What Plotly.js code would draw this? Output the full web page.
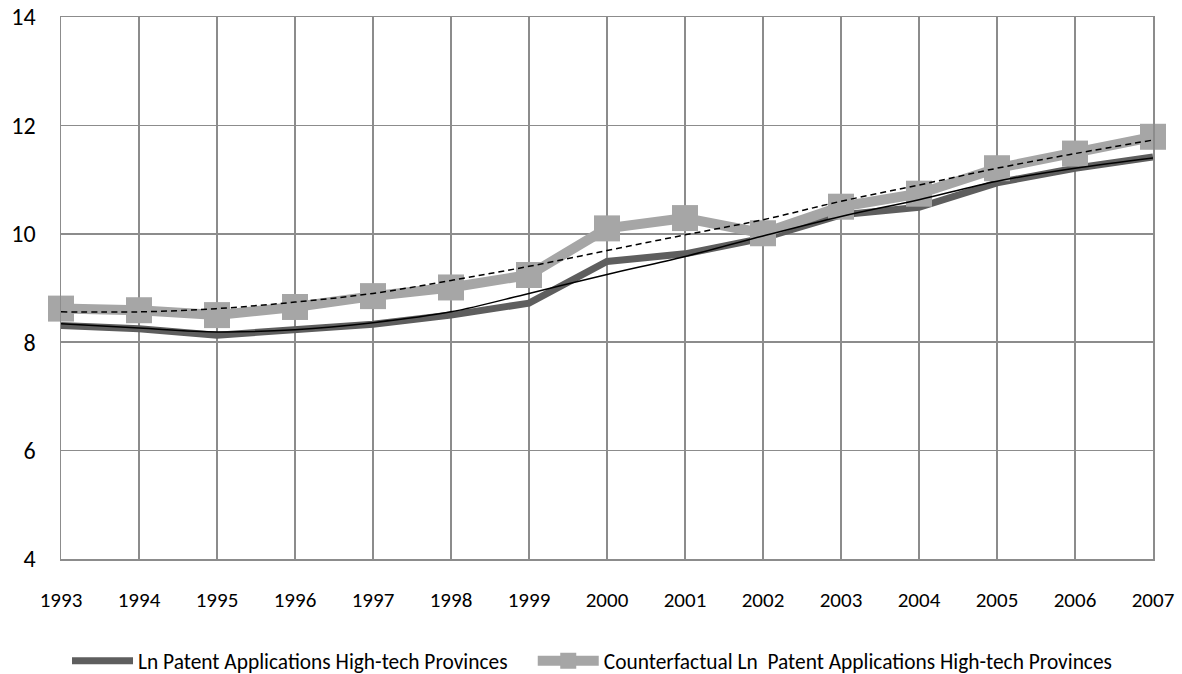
<!DOCTYPE html>
<html>
<head>
<meta charset="utf-8">
<script src="https://cdn.plot.ly/plotly-3.0.1.min.js"></script>
<style>html,body{margin:0;padding:0;background:#fff;}#chart{width:1182px;height:674px;}</style>
</head>
<body>
<div id="chart"></div>
<script>
const years = ['1993','1994','1995','1996','1997','1998','1999','2000','2001','2002','2003','2004','2005','2006','2007'];
const lnPatents = [8.31,8.25,8.13,8.22,8.33,8.50,8.72,9.49,9.63,9.92,10.35,10.49,10.94,11.21,11.42];
const counterfactual = [8.62,8.59,8.50,8.65,8.85,9.01,9.24,10.10,10.29,10.01,10.50,10.74,11.21,11.48,11.79];
const trendLn = [8.34,8.26,8.19,8.23,8.36,8.56,8.90,9.25,9.58,9.96,10.32,10.63,10.97,11.21,11.40];
const trendCounter = [8.56,8.56,8.62,8.74,8.90,9.14,9.40,9.69,9.98,10.26,10.60,10.90,11.21,11.48,11.73];
const yTicks = [4,6,8,10,12,14];

const fontFam = "Carlito, 'Liberation Sans Narrow', 'Open Sans', 'Liberation Sans', sans-serif";

const traces = [
  {x: years, y: lnPatents, mode: 'lines', name: 'Ln Patent Applications High-tech Provinces',
   legend: 'legend', cliponaxis: false,
   line: {color: '#5e5e5e', width: 7}},
  {x: years, y: counterfactual, mode: 'lines+markers', name: 'Counterfactual Ln\u00a0 Patent Applications High-tech Provinces',
   legend: 'legend2', cliponaxis: false,
   line: {color: '#a6a6a6', width: 10}, marker: {symbol: 'square', size: 26, color: '#a6a6a6'}},
  {x: years, y: trendLn, mode: 'lines', showlegend: false, cliponaxis: false, line: {color: '#000000', width: 1.5, shape: 'spline'}},
  {x: years, y: trendCounter, mode: 'lines', showlegend: false, cliponaxis: false, line: {color: '#000000', width: 1.5, dash: '6px,4px', shape: 'spline'}}
];

const legendBase = {orientation: 'h', xanchor: 'left', y: -0.188, yanchor: 'middle',
                    font: {size: 21.4, family: fontFam}, itemwidth: 61, bgcolor: 'rgba(0,0,0,0)'};

const layout = {
  width: 1182, height: 674,
  margin: {l: 61, r: 29, t: 17, b: 115, autoexpand: false},
  paper_bgcolor: '#ffffff', plot_bgcolor: '#ffffff',
  font: {family: fontFam, color: '#000000'},
  showlegend: true,
  legend: Object.assign({}, legendBase, {x: 0.0055}),
  legend2: Object.assign({}, legendBase, {x: 0.432}),
  xaxis: {type: 'category', tickvals: years, ticktext: years, range: [0, 14],
          showgrid: true, gridcolor: '#8c8c8c', gridwidth: 1.5,
          showline: true, linecolor: '#8c8c8c', linewidth: 1.5, mirror: true,
          ticks: '', ticklabelstandoff: 21, tickfont: {size: 21}, zeroline: false},
  yaxis: {range: [4, 14], tickvals: yTicks, showgrid: true, gridcolor: '#8c8c8c', gridwidth: 1.5,
          showline: true, linecolor: '#8c8c8c', linewidth: 1.5, mirror: true,
          ticks: '', ticklabelstandoff: 19, tickfont: {size: 24}, zeroline: false}
};

Plotly.newPlot('chart', traces, layout, {displayModeBar: false, staticPlot: true});
</script>
</body>
</html>
